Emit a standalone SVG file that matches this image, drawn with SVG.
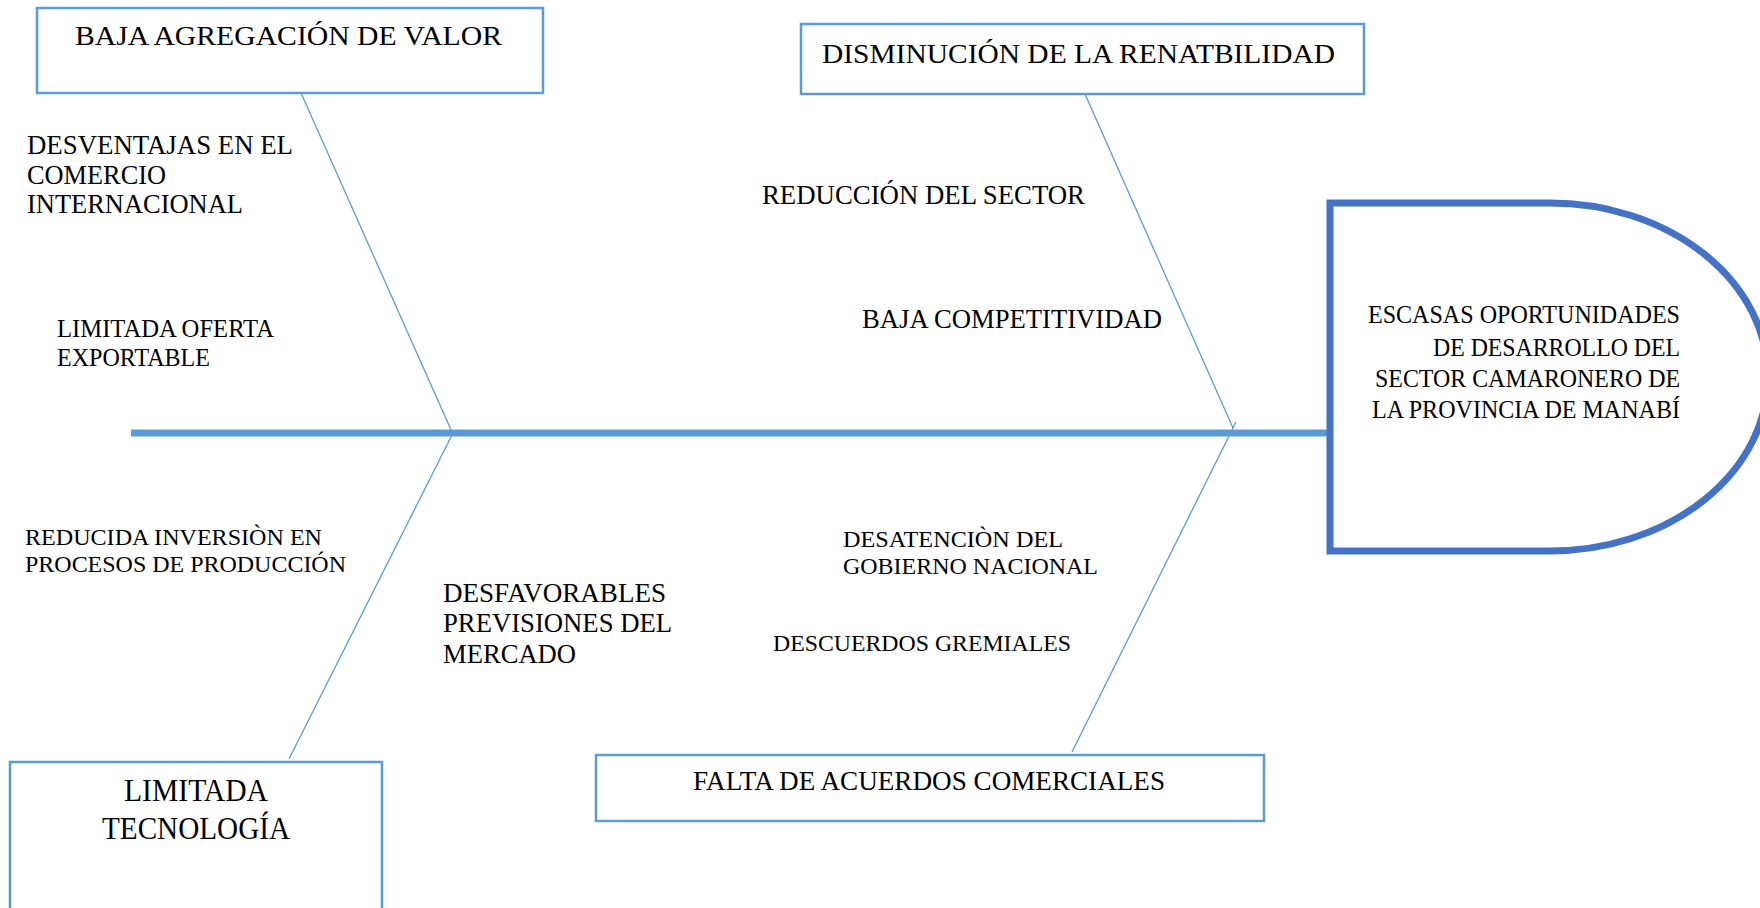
<svg xmlns="http://www.w3.org/2000/svg" width="1760" height="908" viewBox="0 0 1760 908">
<style>
text{font-family:"Liberation Serif","Times New Roman",serif;fill:#000}
.box{fill:#fff;stroke:#5B9BD5;stroke-width:2.5}
.bone{stroke:#5B9BD5;stroke-width:1.3;fill:none}
.spine{stroke:#5B9BD5;stroke-width:7;fill:none}
.effect{fill:#fff;stroke:#4472C4;stroke-width:7}
.t26{font-size:27px}
.t27{font-size:28px}
.t24{font-size:24.5px}
.t23{font-size:24px}
.t30{font-size:31px}
</style>
<rect width="1760" height="908" fill="#fff"/>
<g id="connectors">
<line class="spine" x1="131" y1="433" x2="1330" y2="433"/>
<line class="bone" x1="301" y1="93" x2="452" y2="432"/>
<line class="bone" x1="452" y1="435" x2="289" y2="759"/>
<line class="bone" x1="1085" y1="94" x2="1233" y2="428"/>
<line class="bone" x1="1231" y1="432" x2="1236" y2="422"/>
<line class="bone" x1="1229" y1="436" x2="1072" y2="752"/>
</g>
<g id="effect">
<path class="effect" d="M1330,203 H1550 A218,174 0 0 1 1550,551 H1330 Z"/>
<text class="t24" x="1680" y="323" text-anchor="end" textLength="312" lengthAdjust="spacingAndGlyphs">ESCASAS OPORTUNIDADES</text>
<text class="t24" x="1680" y="356" text-anchor="end" textLength="247" lengthAdjust="spacingAndGlyphs">DE DESARROLLO DEL</text>
<text class="t24" x="1680" y="387" text-anchor="end" textLength="305" lengthAdjust="spacingAndGlyphs">SECTOR CAMARONERO DE</text>
<text class="t24" x="1680" y="418" text-anchor="end" textLength="308" lengthAdjust="spacingAndGlyphs">LA PROVINCIA DE MANABÍ</text>
</g>
<g id="baja-agregacion">
<rect class="box" x="37" y="8" width="506" height="85"/>
<text class="t26" x="75" y="45" textLength="427" lengthAdjust="spacingAndGlyphs">BAJA AGREGACIÓN DE VALOR</text>
</g>
<g id="disminucion">
<rect class="box" x="801" y="24" width="563" height="70"/>
<text class="t26" x="822" y="63" textLength="513" lengthAdjust="spacingAndGlyphs">DISMINUCIÓN DE LA RENATBILIDAD</text>
</g>
<g id="limitada-tecnologia">
<rect class="box" x="10" y="762" width="372" height="170"/>
<text class="t30" x="124" y="801" textLength="144" lengthAdjust="spacingAndGlyphs">LIMITADA</text>
<text class="t30" x="102" y="839" textLength="188" lengthAdjust="spacingAndGlyphs">TECNOLOGÍA</text>
</g>
<g id="falta-acuerdos">
<rect class="box" x="596" y="755" width="668" height="66"/>
<text class="t26" x="693" y="790" textLength="472" lengthAdjust="spacingAndGlyphs">FALTA DE ACUERDOS COMERCIALES</text>
</g>
<g id="desventajas">
<text class="t26" x="27" y="154" textLength="266" lengthAdjust="spacingAndGlyphs">DESVENTAJAS EN EL</text>
<text class="t26" x="27" y="184" textLength="139" lengthAdjust="spacingAndGlyphs">COMERCIO</text>
<text class="t26" x="27" y="213" textLength="216" lengthAdjust="spacingAndGlyphs">INTERNACIONAL</text>
</g>
<g id="limitada-oferta">
<text class="t24" x="57" y="337" textLength="217" lengthAdjust="spacingAndGlyphs">LIMITADA OFERTA</text>
<text class="t24" x="57" y="366" textLength="153" lengthAdjust="spacingAndGlyphs">EXPORTABLE</text>
</g>
<g id="reduccion-sector">
<text class="t26" x="762" y="204" textLength="323" lengthAdjust="spacingAndGlyphs">REDUCCIÓN DEL SECTOR</text>
</g>
<g id="baja-competitividad">
<text class="t26" x="862" y="328" textLength="300" lengthAdjust="spacingAndGlyphs">BAJA COMPETITIVIDAD</text>
</g>
<g id="reducida-inversion">
<text class="t23" x="25" y="545" textLength="297" lengthAdjust="spacingAndGlyphs">REDUCIDA INVERSIÒN EN</text>
<text class="t23" x="25" y="572" textLength="321" lengthAdjust="spacingAndGlyphs">PROCESOS DE PRODUCCIÓN</text>
</g>
<g id="desfavorables">
<text class="t27" x="443" y="602" textLength="223" lengthAdjust="spacingAndGlyphs">DESFAVORABLES</text>
<text class="t27" x="443" y="632" textLength="229" lengthAdjust="spacingAndGlyphs">PREVISIONES DEL</text>
<text class="t27" x="443" y="663" textLength="133" lengthAdjust="spacingAndGlyphs">MERCADO</text>
</g>
<g id="desatencion">
<text class="t23" x="843" y="547" textLength="220" lengthAdjust="spacingAndGlyphs">DESATENCIÒN DEL</text>
<text class="t23" x="843" y="574" textLength="255" lengthAdjust="spacingAndGlyphs">GOBIERNO NACIONAL</text>
</g>
<g id="descuerdos">
<text class="t23" x="773" y="651" textLength="298" lengthAdjust="spacingAndGlyphs">DESCUERDOS GREMIALES</text>
</g>
</svg>
